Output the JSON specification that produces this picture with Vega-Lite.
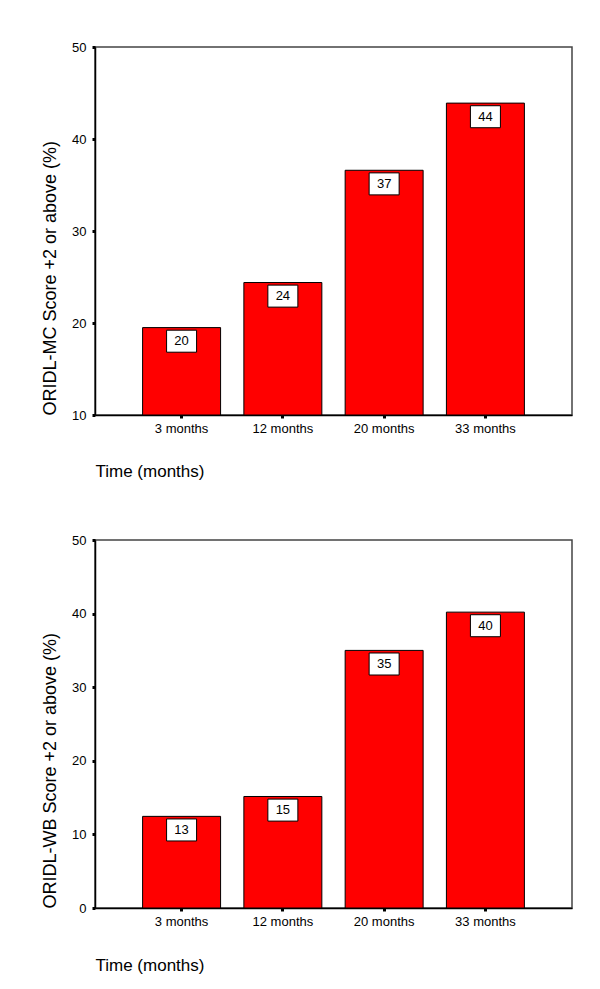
{
  "$schema": "https://vega.github.io/schema/vega-lite/v6.json",
  "padding": {"left": 40, "top": 40, "right": 5, "bottom": 5},
  "background": "white",
  "config": {
    "font": "Liberation Sans",
    "view": {"stroke": "#444", "strokeWidth": 1.5},
    "axis": {
      "domainColor": "black", "domainWidth": 1.5,
      "tickColor": "black", "tickSize": 3, "tickWidth": 3,
      "labelColor": "black", "labelFont": "Liberation Sans", "labelFontSize": 13,
      "titleColor": "black", "titleFont": "Liberation Sans", "titleFontSize": 17, "titleFontWeight": "normal",
      "grid": false
    }
  },
  "datasets": {
    "mc": [
      {"time": "3 months", "value": 19.5, "label": "20"},
      {"time": "12 months", "value": 24.4, "label": "24"},
      {"time": "20 months", "value": 36.6, "label": "37"},
      {"time": "33 months", "value": 43.9, "label": "44"}
    ],
    "wb": [
      {"time": "3 months", "value": 12.45, "label": "13"},
      {"time": "12 months", "value": 15.15, "label": "15"},
      {"time": "20 months", "value": 35.0, "label": "35"},
      {"time": "33 months", "value": 40.2, "label": "40"}
    ]
  },
  "bounds": "flush",
  "spacing": 125,
  "vconcat": [
    {
      "width": 477,
      "height": 368,
      "data": {"name": "mc"},
      "encoding": {
        "x": {
          "field": "time", "type": "nominal", "sort": null,
          "scale": {"paddingInner": 0.23, "paddingOuter": 0.47},
          "axis": {"labelAngle": 0, "labelPadding": 4, "title": "Time (months)",
                   "titleAnchor": "start", "titleAlign": "left", "titleBaseline": "middle",
                   "titleX": 0, "titleY": 56}
        },
        "y": {
          "field": "value", "type": "quantitative",
          "scale": {"domain": [10, 50], "zero": false, "nice": false},
          "axis": {"values": [10, 20, 30, 40, 50], "labelPadding": 6,
                   "title": "ORIDL-MC Score +2 or above (%)", "titleFontSize": 18,
                   "titleX": -45, "titleY": 368,
                   "titleBaseline": "middle", "titleAlign": "left", "titleAngle": -90}
        }
      },
      "layer": [
        {"mark": {"type": "bar", "fill": "#ff0000", "stroke": "black", "strokeWidth": 1},
         "encoding": {"y2": {"datum": 10}}},
        {"mark": {"type": "point", "shape": "M-1.5,-1.1H1.5V1.1H-1.5Z", "filled": true,
                  "fill": "white", "stroke": "black", "strokeWidth": 1, "size": 400,
                  "opacity": 1, "yOffset": 13.6}},
        {"mark": {"type": "text", "yOffset": 13.6, "fontSize": 13, "baseline": "middle",
                  "align": "center", "color": "black"},
         "encoding": {"text": {"field": "label"}}}
      ]
    },
    {
      "width": 477,
      "height": 368,
      "data": {"name": "wb"},
      "encoding": {
        "x": {
          "field": "time", "type": "nominal", "sort": null,
          "scale": {"paddingInner": 0.23, "paddingOuter": 0.47},
          "axis": {"labelAngle": 0, "labelPadding": 4, "title": "Time (months)",
                   "titleAnchor": "start", "titleAlign": "left", "titleBaseline": "middle",
                   "titleX": 0, "titleY": 57}
        },
        "y": {
          "field": "value", "type": "quantitative",
          "scale": {"domain": [0, 50], "nice": false},
          "axis": {"values": [0, 10, 20, 30, 40, 50], "labelPadding": 6,
                   "title": "ORIDL-WB Score +2 or above (%)", "titleFontSize": 18,
                   "titleX": -45, "titleY": 368,
                   "titleBaseline": "middle", "titleAlign": "left", "titleAngle": -90}
        }
      },
      "layer": [
        {"mark": {"type": "bar", "fill": "#ff0000", "stroke": "black", "strokeWidth": 1},
         "encoding": {"y2": {"datum": 0}}},
        {"mark": {"type": "point", "shape": "M-1.5,-1.1H1.5V1.1H-1.5Z", "filled": true,
                  "fill": "white", "stroke": "black", "strokeWidth": 1, "size": 400,
                  "opacity": 1, "yOffset": 13.6}},
        {"mark": {"type": "text", "yOffset": 13.6, "fontSize": 13, "baseline": "middle",
                  "align": "center", "color": "black"},
         "encoding": {"text": {"field": "label"}}}
      ]
    }
  ]
}
